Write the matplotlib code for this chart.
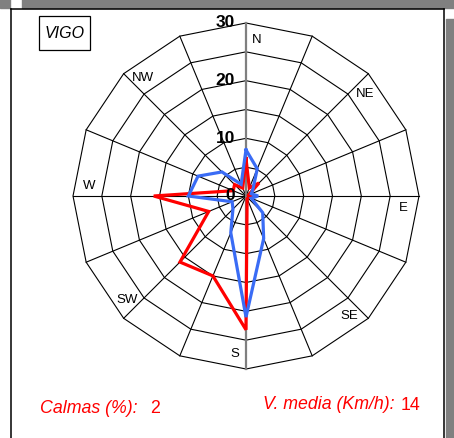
import numpy as np
import matplotlib
matplotlib.use("Agg")
import matplotlib.pyplot as plt
from matplotlib.patches import Rectangle
from matplotlib.lines import Line2D

plt.rcParams['font.family'] = ['Liberation Sans', 'DejaVu Sans']

# ---- data ----
directions = ['N', 'NNE', 'NE', 'ENE', 'E', 'ESE', 'SE', 'SSE',
              'S', 'SSW', 'SW', 'WSW', 'W', 'WNW', 'NW', 'NNW']
red_values = [6.5, 1.5, 3.2, 0.5, 0.8, 0.5, 0.5, 0.5,
              23.2, 15.0, 16.2, 7.0, 16.0, 2.4, 2.8, 1.5]
blue_values = [8.0, 5.1, 1.7, 1.0, 2.1, 1.0, 4.1, 8.0,
               21.0, 6.9, 3.2, 2.6, 10.0, 9.0, 5.9, 2.2]
ring_values = [5, 10, 15, 20, 25, 30]
ring_labels = [0, 10, 20, 30]
compass_labels = ['N', 'NE', 'E', 'SE', 'S', 'SW', 'W', 'NW']
station = 'VIGO'
calmas = 2
v_media = 14

# ---- figure ----
W, H = 454, 439
fig = plt.figure(figsize=(W / 100, H / 100), dpi=100)
cx, cy = 246, 197
ppu = 173 / 30.0
ax = fig.add_axes([0, 0, 1, 1])
ax.set_xlim(-cx / ppu, (W - cx) / ppu)
ax.set_ylim(-(H - cy) / ppu, cy / ppu)
ax.axis('off')

def px(x, y):
    return x / W, 1 - y / H

# decorations (gray bands, frame)
gray = '#808080'
for (x0, y0, x1, y1) in [(0, 0, 10, 8.5), (22, 0, 454, 9), (446, 20, 454, 439)]:
    fig.patches.append(Rectangle(px(x0, y1), (x1 - x0) / W, (y1 - y0) / H,
                                 transform=fig.transFigure, color=gray, zorder=0))
for (x0, y0, x1, y1) in [(11, 10, 11, 439), (11, 10, 444, 10), (444, 10, 444, 439)]:
    a, b = px(x0, y0), px(x1, y1)
    fig.lines.append(Line2D([a[0], b[0]], [a[1], b[1]], transform=fig.transFigure,
                            color='black', lw=1.1))

n = len(directions)
theta = np.deg2rad(np.arange(n) * 360.0 / n)
tc = np.append(theta, theta[0])

# rings
for r in ring_values:
    ax.plot(r * np.sin(tc), r * np.cos(tc), color='black', lw=0.8, zorder=1)
# spokes
rmax = ring_values[-1]
for i, t in enumerate(theta):
    if i in (0, n // 2):
        continue
    ax.plot([0, rmax * np.sin(t)], [0, rmax * np.cos(t)], color='black', lw=0.8, zorder=1)
ax.plot([0, 0], [-rmax, rmax], color='#7f7f7f', lw=1.6, zorder=1)

# series
rv = np.append(red_values, red_values[0])
bv = np.append(blue_values, blue_values[0])
ax.plot(rv * np.sin(tc), rv * np.cos(tc), color='#ff0000', lw=2.3, zorder=3,
        solid_joinstyle='miter')
ax.plot(bv * np.sin(tc), bv * np.cos(tc), color='#3a6cf5', lw=2.3, zorder=4,
        solid_joinstyle='miter')

# ring labels
for v in ring_labels:
    ax.text(-11 / ppu, v + 0.2, str(v), ha='right', va='center', fontsize=12.5,
            fontweight='bold', zorder=5)

# compass labels
for i, lab in enumerate(compass_labels):
    ang = np.deg2rad(i * 45 + 4)
    ax.text(27.3 * np.sin(ang), 27.3 * np.cos(ang), lab, ha='center', va='center',
            fontsize=9.5, zorder=5)

# station box
fig.patches.append(Rectangle(px(39, 51), 51 / W, 34 / H, transform=fig.transFigure,
                             fill=False, edgecolor='black', lw=0.9))
fig.text(*px(64.5, 34), station, ha='center', va='center', fontsize=11.5,
         style='italic')

# bottom texts
fs = 12.8
fig.text(*px(40, 409), 'Calmas (%):', ha='left', va='center', fontsize=fs,
         style='italic', color='#ff0000')
fig.text(*px(150, 409), str(calmas), ha='left', va='center', fontsize=fs,
         color='#ff0000')
fig.text(*px(263, 405), 'V. media (Km/h):', ha='left', va='center', fontsize=fs,
         style='italic', color='#ff0000')
fig.text(*px(401, 406), str(v_media), ha='left', va='center', fontsize=fs,
         color='#ff0000')

fig.savefig('out.png', dpi=100)
